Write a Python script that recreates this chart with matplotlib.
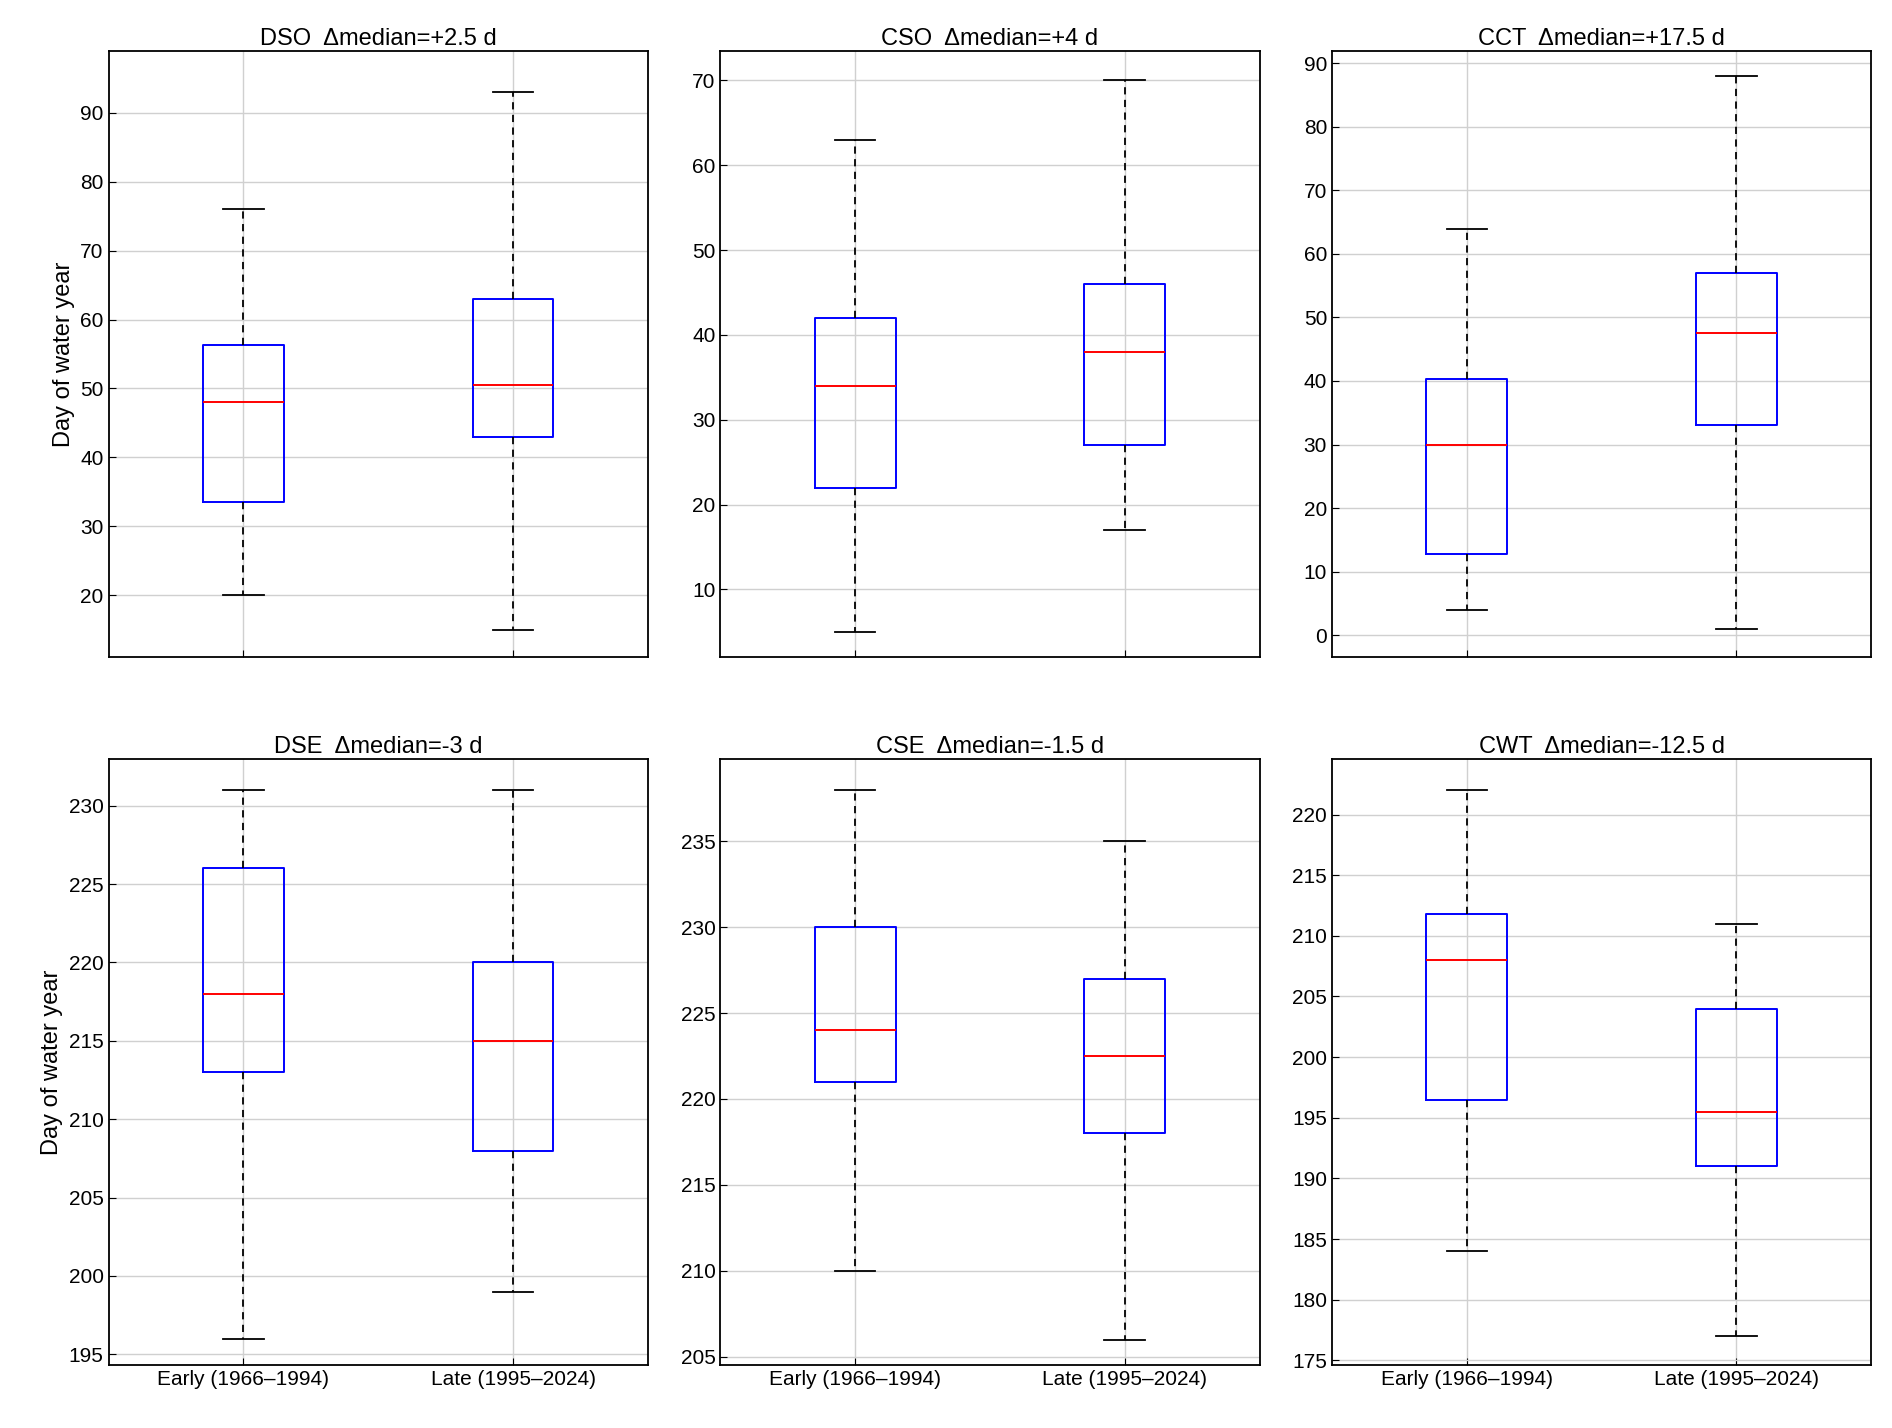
import matplotlib
matplotlib.use("Agg")
import matplotlib.pyplot as plt

plt.rcParams['font.family'] = ['Liberation Sans', 'DejaVu Sans']

titles = ["DSO  Δmedian=+2.5 d", "CSO  Δmedian=+4 d", "CCT  Δmedian=+17.5 d",
          "DSE  Δmedian=-3 d", "CSE  Δmedian=-1.5 d", "CWT  Δmedian=-12.5 d"]
groups = ["Early (1966–1994)", "Late (1995–2024)"]
# whislo, q1, med, q3, whishi
early = [[20, 33.5, 48, 56.3, 76], [5, 22, 34, 42, 63], [4, 12.8, 30, 40.3, 64],
         [196, 213, 218, 226, 231], [210, 221, 224, 230, 238], [184, 196.5, 208, 211.8, 222]]
late = [[15, 43, 50.5, 63, 93], [17, 27, 38, 46, 70], [1, 33, 47.5, 57, 88],
        [199, 208, 215, 220, 231], [206, 218, 222.5, 227, 235], [177, 191, 195.5, 204, 211]]
ylims = [(11, 99), (2, 73.5), (-3.5, 92), (194.3, 233), (204.5, 239.8), (174.6, 224.6)]
yticks = [range(20, 91, 10), range(10, 71, 10), range(0, 91, 10),
          range(195, 231, 5), range(205, 236, 5), range(175, 221, 5)]

fig = plt.figure(figsize=(18.92, 14.28), dpi=100)
lefts = [0.0574, 0.3807, 0.704]
bottoms = [0.5397, 0.0439]
w, h = 0.285, 0.4248

for i in range(6):
    r, c = divmod(i, 3)
    ax = fig.add_axes([lefts[c], bottoms[r], w, h])
    stats = []
    for s, lab in zip([early[i], late[i]], groups):
        stats.append(dict(whislo=s[0], q1=s[1], med=s[2], q3=s[3], whishi=s[4], label=lab, fliers=[]))
    ax.bxp(stats, positions=[1, 2], widths=0.3, showfliers=False,
           boxprops=dict(color='blue', linewidth=1.4),
           medianprops=dict(color='red', linewidth=1.4),
           whiskerprops=dict(color='black', linestyle=(0, (4, 3)), linewidth=1.3),
           capprops=dict(color='black', linewidth=1.3), capwidths=0.15)
    ax.set_xlim(0.5, 2.5)
    ax.set_ylim(*ylims[i])
    ax.set_yticks(list(yticks[i]))
    ax.grid(True, color='#d0d0d0', linewidth=1)
    ax.set_axisbelow(True)
    ax.tick_params(direction='in', labelsize=15, length=5)
    for sp in ax.spines.values():
        sp.set_linewidth(1.3)
    if r == 0:
        ax.set_xticklabels([])
    ax.set_title(titles[i], fontsize=17, pad=4)
    if c == 0:
        ax.set_ylabel("Day of water year", fontsize=17)

fig.savefig("out.png", dpi=100, facecolor='white')
